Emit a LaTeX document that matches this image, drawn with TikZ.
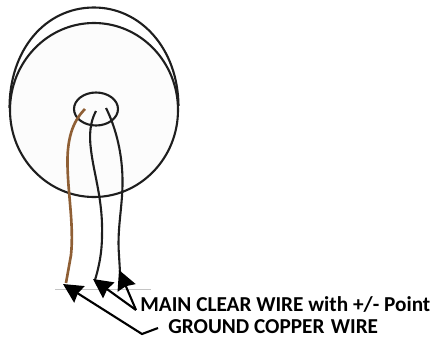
\documentclass[tikz,border=0pt]{standalone}
\usepackage{fontspec}
\setmainfont{Carlito}
\usetikzlibrary{arrows.meta, positioning, calc}
\definecolor{ccopper}{HTML}{8F5F35}
\definecolor{cink}{HTML}{1E1E1E}
\definecolor{cface}{HTML}{FCFCFC}
\definecolor{cgrey}{HTML}{C4C4C4}
\tikzset{
  every picture/.style={x=0.02cm, y=-0.02cm},
  rim/.style={draw=cink, line width=1.2pt},
  wire/.style={draw=cink, line width=1.2pt},
  copper/.style={draw=ccopper, line width=1.5pt},
  pointer/.style={-{Stealth[length=11pt, width=11pt, inset=1pt]}, draw=black, line width=1.2pt},
  label/.style={font=\bfseries\fontsize{12.1}{14}\selectfont, text=black, inner sep=0pt, anchor=west},
}

\begin{document}
\begin{tikzpicture}
  \useasboundingbox (0,0) rectangle (435,338);
  % back rim, then front face
  \draw[rim] (9.5,108) .. controls (9.5,50) and (45,7.5) .. (94,7.5) .. controls (140,7.5) and (178,48) .. (178.5,106);
  \draw[rim, fill=cface] (94,110) ellipse (84 and 87);
  \draw[rim] (96,109) ellipse (22 and 16.5);
  % wire ends
  \coordinate (gndtip) at (66,283);
  \coordinate (lefttip) at (95,280);
  \coordinate (righttip) at (120,272);
  % wires
  \draw[copper] (85,109) .. controls (72,122) and (67,140) .. (67.5,165) .. controls (68,195) and (74,225) .. (71,255) -- (gndtip);
  \draw[wire] (96,111) .. controls (90,122) and (89,135) .. (91,150) .. controls (94,175) and (103,200) .. (102,235) .. controls (102,255) and (98,270) .. (lefttip);
  \draw[wire] (106,108) .. controls (116,128) and (123,155) .. (122.5,185) .. controls (122,210) and (117,230) .. (119,255) -- (righttip);
  % ground line
  \draw[cgrey, line width=0.4pt] (55,289) -- (151,289);
  % labels
  \node[label] (main) at (140,305) {MAIN CLEAR WIRE with +/- Point};
  \node[label] (ground) at (168,327) {GROUND COPPER\hspace{0.07em} WIRE};
  % pointers
  \coordinate (fork) at (136,310);
  \coordinate (bend) at (142,334);
  \coordinate (tail) at (158,328);
  \draw[pointer] (fork) -- (93,279);
  \draw[pointer] (fork) -- (119,270);
  \draw[pointer] (tail) -- (bend) -- (63,284);
\end{tikzpicture}
\end{document}
